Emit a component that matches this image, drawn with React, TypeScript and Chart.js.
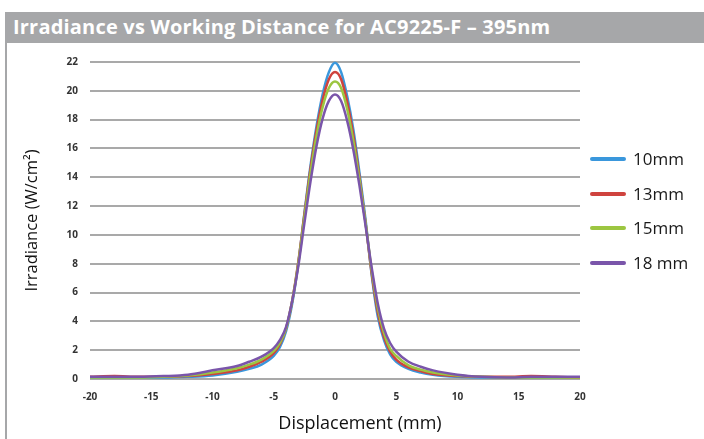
import React, { useEffect, useRef } from "react";
import { Chart, registerables } from "chart.js";

Chart.register(...registerables);

const titleText = "Irradiance vs Working Distance for AC9225-F – 395nm";
const xTitle = "Displacement (mm)";
const yTitle = "Irradiance (W/cm²)";

const displacement = [-20, -18, -16, -14, -12, -10, -8, -7, -6, -5, -4.5, -4, -3.5, -3, -2.5, -2, -1.5, -1, -0.5, 0, 0.5, 1, 1.5, 2, 2.5, 3, 3.5, 4, 4.5, 5, 6, 7, 8, 10, 12, 14, 16, 18, 20];

const series10 = [0.1, 0.1, 0.1, 0.1, 0.15, 0.25, 0.5, 0.7, 1.0, 1.6, 2.2, 3.3, 5.2, 8.0, 11.5, 14.8, 17.6, 19.8, 21.3, 21.95, 21.3, 19.6, 17.3, 14.3, 11.0, 7.2, 4.3, 2.7, 1.7, 1.2, 0.7, 0.45, 0.3, 0.15, 0.1, 0.1, 0.1, 0.1, 0.1];
const series13 = [0.15, 0.2, 0.15, 0.15, 0.2, 0.35, 0.6, 0.85, 1.2, 1.8, 2.4, 3.5, 5.4, 8.1, 11.4, 14.6, 17.3, 19.4, 20.8, 21.3, 20.8, 19.2, 16.9, 14.0, 10.8, 7.3, 4.6, 2.9, 1.9, 1.35, 0.8, 0.55, 0.35, 0.2, 0.15, 0.15, 0.2, 0.15, 0.1];
const series15 = [0.1, 0.1, 0.1, 0.15, 0.25, 0.45, 0.75, 1.0, 1.35, 1.95, 2.5, 3.5, 5.4, 8.0, 11.2, 14.3, 16.9, 18.9, 20.2, 20.65, 20.2, 18.7, 16.5, 13.8, 10.8, 7.5, 4.9, 3.2, 2.1, 1.6, 0.95, 0.65, 0.45, 0.25, 0.15, 0.1, 0.1, 0.1, 0.1];
const series18 = [0.15, 0.15, 0.15, 0.2, 0.3, 0.6, 0.9, 1.2, 1.55, 2.15, 2.7, 3.6, 5.4, 7.8, 10.8, 13.7, 16.2, 18.1, 19.3, 19.75, 19.3, 17.9, 15.9, 13.4, 10.6, 7.7, 5.2, 3.5, 2.5, 1.9, 1.2, 0.85, 0.6, 0.3, 0.15, 0.1, 0.15, 0.15, 0.15];

const seriesLabels = ["10mm", "13mm", "15mm", "18 mm"];
const seriesValues = [series10, series13, series15, series18];
const seriesColors = ["#3a97dc", "#cf433e", "#9cc641", "#7a55aa"];

const xMin = -20;
const xMax = 20;
const xStep = 5;
const yMin = 0;
const yMax = 22;
const yStep = 2;

export default function App() {
  const canvasRef = useRef<HTMLCanvasElement | null>(null);

  useEffect(() => {
    const canvas = canvasRef.current;
    if (!canvas) return;
    const chart = new Chart(canvas, {
      type: "line",
      data: {
        datasets: seriesValues.map((vals, i) => ({
          label: seriesLabels[i],
          data: vals.map((v, j) => ({ x: displacement[j], y: v })),
          borderColor: seriesColors[i],
          backgroundColor: seriesColors[i],
          borderWidth: 2.5,
          pointRadius: 0,
          cubicInterpolationMode: "monotone" as const,
          fill: false,
          clip: 6,
          order: seriesValues.length - i,
        })),
      },
      options: {
        animation: false,
        responsive: false,
        devicePixelRatio: 1,
        layout: { padding: { left: 0, top: 62, right: 124, bottom: 0 } },
        plugins: {
          legend: { display: false },
          tooltip: { enabled: false },
        },
        scales: {
          x: {
            type: "linear",
            min: xMin,
            max: xMax,
            afterFit: (s: any) => {
              s.height = 60;
            },
            ticks: {
              stepSize: xStep,
              padding: 12,
              color: "#333",
              font: { family: "Open Sans", size: 10, weight: "bold" },
            },
            grid: { display: false, drawTicks: false },
            border: { display: false },
            title: { display: false },
          },
          y: {
            type: "linear",
            min: yMin,
            max: yMax,
            afterFit: (s: any) => {
              s.width = 90;
            },
            ticks: {
              stepSize: yStep,
              padding: 12,
              color: "#333",
              font: { family: "Open Sans", size: 10, weight: "bold" },
            },
            grid: { color: "#a9a9a9", lineWidth: 2, drawTicks: false },
            border: { display: false },
            title: {
              display: true,
              text: yTitle,
              color: "#111",
              font: { family: "Open Sans", size: 16.5 },
              padding: { top: 22, bottom: 0 },
            },
          },
        },
      },
    });
    return () => chart.destroy();
  }, []);

  const legendTop = 159;
  const legendGap = 34.5;

  return (
    <div
      style={{
        position: "fixed",
        left: 0,
        top: 0,
        width: 704,
        height: 439,
        background: "#fff",
        fontFamily: '"Open Sans", sans-serif',
        overflow: "hidden",
      }}
    >
      <div
        style={{
          position: "absolute",
          left: 5,
          top: 12,
          width: 699,
          height: 31,
          background: "#a6a7a9",
        }}
      >
        <span
          style={{
            position: "absolute",
            left: 8,
            top: 1,
            color: "#fff",
            fontWeight: 700,
            fontSize: 20,
            letterSpacing: 0.2,
            lineHeight: "28px",
            whiteSpace: "nowrap",
          }}
        >
          {titleText}
        </span>
      </div>
      <div
        style={{
          position: "absolute",
          left: 5,
          top: 43,
          width: 2,
          height: 396,
          background: "#a6a7a9",
        }}
      />
      <canvas
        ref={canvasRef}
        width={704}
        height={439}
        style={{ position: "absolute", left: 0, top: 0, width: 704, height: 439 }}
      />
      <span
        style={{
          position: "absolute",
          left: 360,
          top: 410,
          transform: "translateX(-50%)",
          fontSize: 18,
          lineHeight: "24px",
          color: "#111",
          whiteSpace: "nowrap",
        }}
      >
        {xTitle}
      </span>
      {seriesLabels.map((lab, i) => (
        <div
          key={lab}
          style={{
            position: "absolute",
            left: 590,
            top: legendTop + i * legendGap - 12,
            height: 24,
            display: "flex",
            alignItems: "center",
            whiteSpace: "nowrap",
          }}
        >
          <div
            style={{
              width: 36,
              height: 4,
              borderRadius: 2,
              background: seriesColors[i],
              marginRight: 7,
            }}
          />
          <span style={{ fontSize: 17, color: "#1a1a1a", lineHeight: "24px" }}>{lab}</span>
        </div>
      ))}
    </div>
  );
}
